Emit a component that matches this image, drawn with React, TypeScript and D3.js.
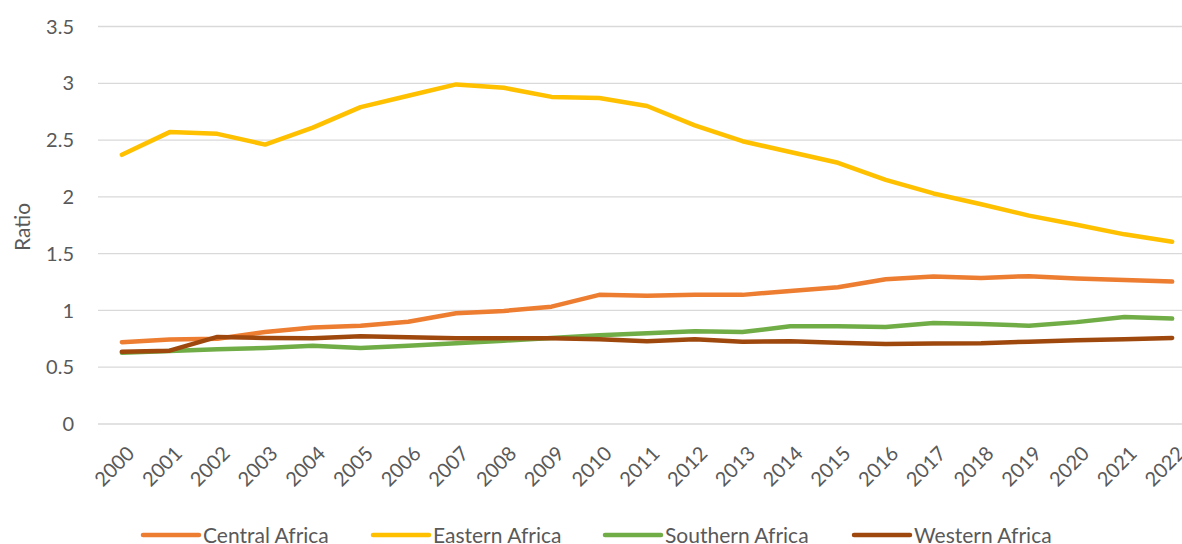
import React from "react";
import * as d3 from "d3";

const years: string[] = [
  "2000", "2001", "2002", "2003", "2004", "2005", "2006", "2007", "2008", "2009", "2010", "2011",
  "2012", "2013", "2014", "2015", "2016", "2017", "2018", "2019", "2020", "2021", "2022",
];

const centralAfrica: number[] = [
  0.72, 0.745, 0.75, 0.81, 0.85, 0.866, 0.9, 0.975, 0.995, 1.033, 1.137, 1.13,
  1.137, 1.137, 1.172, 1.204, 1.275, 1.298, 1.286, 1.302, 1.282, 1.269, 1.254,
];

const easternAfrica: number[] = [
  2.37, 2.57, 2.555, 2.46, 2.61, 2.79, 2.89, 2.99, 2.96, 2.88, 2.87, 2.8,
  2.63, 2.49, 2.395, 2.3, 2.15, 2.03, 1.935, 1.835, 1.755, 1.67, 1.605,
];

const southernAfrica: number[] = [
  0.628, 0.643, 0.658, 0.67, 0.69, 0.67, 0.69, 0.711, 0.734, 0.758, 0.781, 0.8,
  0.817, 0.81, 0.86, 0.86, 0.855, 0.89, 0.88, 0.866, 0.897, 0.943, 0.928,
];

const westernAfrica: number[] = [
  0.637, 0.646, 0.767, 0.758, 0.755, 0.772, 0.764, 0.755, 0.755, 0.755, 0.746, 0.729,
  0.746, 0.725, 0.729, 0.716, 0.705, 0.708, 0.711, 0.725, 0.737, 0.746, 0.758,
];

const yTicks: number[] = [0, 0.5, 1, 1.5, 2, 2.5, 3, 3.5];

const seriesNames: string[] = ["Central Africa", "Eastern Africa", "Southern Africa", "Western Africa"];
const seriesColors: string[] = ["#ED7D31", "#FFC000", "#70AD47", "#9E480E"];
const seriesValues: number[][] = [centralAfrica, easternAfrica, southernAfrica, westernAfrica];

const W = 1182;
const H = 544;
const FONT = "Lato, 'Open Sans', sans-serif";
const TEXT = "#595959";

export default function App() {
  const x = d3.scalePoint<string>().domain(years).range([98, 1196]).padding(0.5);
  const y = d3.scaleLinear().domain([0, 3.5]).range([424, 26.5]);

  const line = d3
    .line<number>()
    .x((_, i) => x(years[i]) as number)
    .y((d) => y(d));

  // Legend layout: swatch then label, entries laid out left to right
  const legendX = [143, 373, 605, 854];
  const legendY = 535;

  return (
    <svg
      width={W}
      height={H}
      style={{ position: "absolute", left: 0, top: 0, background: "#fff" }}
      fontFamily={FONT}
    >
      {/* horizontal gridlines and value labels */}
      {yTicks.map((t) => (
        <g key={t}>
          <line x1={98} x2={W} y1={y(t)} y2={y(t)} stroke="#d9d9d9" strokeWidth={1.3} />
          <text x={74} y={y(t)} dy="0.36em" textAnchor="end" fontSize={20} fill={TEXT}>
            {t}
          </text>
        </g>
      ))}

      {/* category labels, rotated */}
      {years.map((yr) => {
        const px = (x(yr) as number) + 4;
        const py = 445;
        return (
          <text
            key={yr}
            x={px}
            y={py}
            transform={`rotate(-45 ${px} ${py})`}
            textAnchor="end"
            dy="0.7em"
            fontSize={20}
            fill={TEXT}
          >
            {yr}
          </text>
        );
      })}

      {/* axis title */}
      <text
        transform={`translate(22 227) rotate(-90)`}
        textAnchor="middle"
        dy="0.36em"
        fontSize={21}
        fill={TEXT}
      >
        Ratio
      </text>

      {/* series lines */}
      {seriesValues.map((vals, i) => (
        <path
          key={seriesNames[i]}
          d={line(vals) ?? undefined}
          fill="none"
          stroke={seriesColors[i]}
          strokeWidth={4.5}
          strokeLinecap="round"
          strokeLinejoin="round"
        />
      ))}

      {/* legend */}
      {seriesNames.map((name, i) => (
        <g key={name}>
          <line
            x1={legendX[i]}
            x2={legendX[i] + 56}
            y1={legendY}
            y2={legendY}
            stroke={seriesColors[i]}
            strokeWidth={4.5}
            strokeLinecap="round"
          />
          <text x={legendX[i] + 60} y={legendY} dy="0.36em" fontSize={21} fill={TEXT}>
            {name}
          </text>
        </g>
      ))}
    </svg>
  );
}
